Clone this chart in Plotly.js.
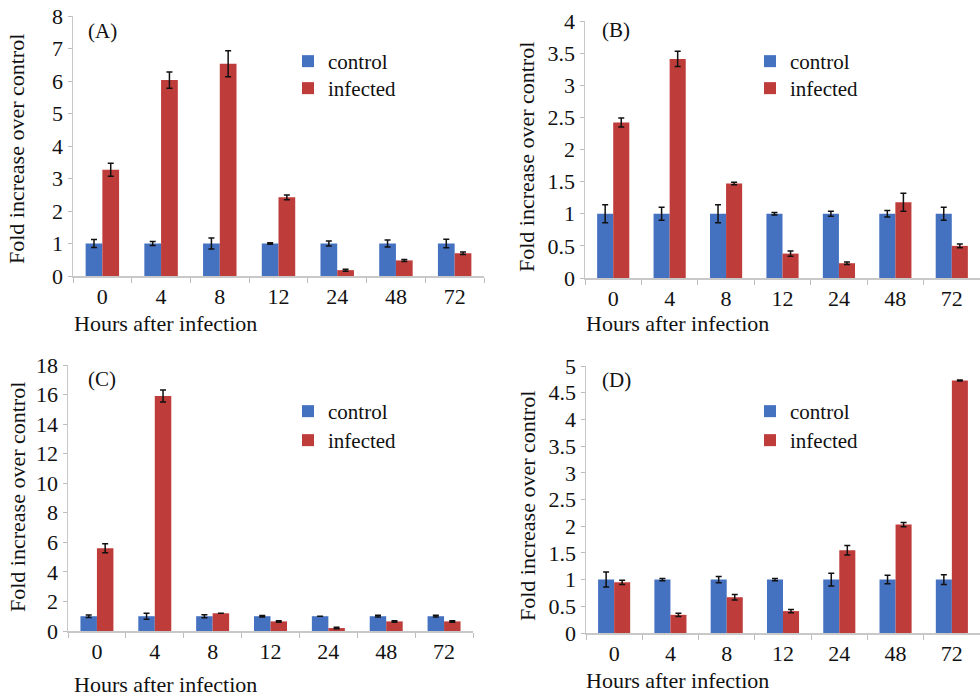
<!DOCTYPE html>
<html>
<head>
<meta charset="utf-8">
<script src="https://cdn.plot.ly/plotly-3.0.1.min.js"></script>
<style>html,body{margin:0;padding:0;background:#fff;}#chart{width:980px;height:697px;}</style>
</head>
<body>
<div id="chart"></div>
<script>
const hours = ['0', '4', '8', '12', '24', '48', '72'];
const seriesNames = ['control', 'infected'];

const controlA = [1, 1, 1, 1, 1, 1, 1];
const controlErrA = [0.12, 0.06, 0.17, 0.02, 0.08, 0.11, 0.13];
const infectedA = [3.27, 6.03, 6.53, 2.42, 0.18, 0.48, 0.70];
const infectedErrA = [0.20, 0.25, 0.40, 0.07, 0.03, 0.03, 0.04];

const controlB = [1, 1, 1, 1, 1, 1, 1];
const controlErrB = [0.14, 0.10, 0.14, 0.02, 0.04, 0.05, 0.10];
const infectedB = [2.42, 3.41, 1.47, 0.38, 0.23, 1.18, 0.50];
const infectedErrB = [0.07, 0.12, 0.02, 0.04, 0.02, 0.14, 0.03];

const controlC = [1, 1, 1, 1, 1, 1, 1];
const controlErrC = [0.08, 0.20, 0.10, 0.05, 0.00, 0.06, 0.06];
const infectedC = [5.6, 15.9, 1.2, 0.65, 0.2, 0.65, 0.65];
const infectedErrC = [0.30, 0.40, 0.00, 0.05, 0.05, 0.05, 0.05];

const controlD = [1, 1, 1, 1, 1, 1, 1];
const controlErrD = [0.14, 0.02, 0.06, 0.02, 0.12, 0.08, 0.09];
const infectedD = [0.95, 0.34, 0.67, 0.41, 1.55, 2.03, 4.73];
const infectedErrD = [0.04, 0.03, 0.05, 0.03, 0.09, 0.04, 0.01];

const panelLabels = ['(A)', '(B)', '(C)', '(D)'];
const xTitle = 'Hours after infection';
const yTitle = 'Fold increase over control';

const BLUE = '#4571c1';
const RED = '#be3c3a';
const FONT = 'Liberation Serif';
const W = 980, H = 697;

const panels = [
  {ctrl: controlA, ce: controlErrA, inf: infectedA, ie: infectedErrA, xa: 'x', ya: 'y'},
  {ctrl: controlB, ce: controlErrB, inf: infectedB, ie: infectedErrB, xa: 'x2', ya: 'y2'},
  {ctrl: controlC, ce: controlErrC, inf: infectedC, ie: infectedErrC, xa: 'x3', ya: 'y3'},
  {ctrl: controlD, ce: controlErrD, inf: infectedD, ie: infectedErrD, xa: 'x4', ya: 'y4'}
];

const legendIds = ['legend', 'legend2', 'legend3', 'legend4', 'legend5', 'legend6', 'legend7', 'legend8'];

const traces = [];
panels.forEach((p, i) => {
  traces.push({
    type: 'bar', x: hours, y: p.ctrl, name: seriesNames[0], xaxis: p.xa, yaxis: p.ya, legend: legendIds[2 * i],
    marker: {color: BLUE},
    error_y: {type: 'data', array: p.ce, visible: true, color: '#111', thickness: 1.5, width: 3}
  });
  traces.push({
    type: 'bar', x: hours, y: p.inf, name: seriesNames[1], xaxis: p.xa, yaxis: p.ya, legend: legendIds[2 * i + 1],
    marker: {color: RED},
    error_y: {type: 'data', array: p.ie, visible: true, color: '#111', thickness: 1.5, width: 3}
  });
});

function px(x) { return x / W; }
function py(y) { return 1 - y / H; }

const geo = [
  {l: 73, r: 484, b: 276, t: 16, range: [0, 8], dtick: 1},
  {l: 585, r: 980, b: 278, t: 21, range: [0, 4], dtick: 0.5},
  {l: 68, r: 473, b: 631, t: 365, range: [0, 18], dtick: 2},
  {l: 586, r: 980, b: 633, t: 366, range: [0, 5], dtick: 0.5}
];

const layout = {
  width: W, height: H,
  margin: {l: 0, r: 0, t: 0, b: 0},
  paper_bgcolor: '#fff', plot_bgcolor: '#fff',
  font: {family: FONT, size: 20, color: '#111'},
  barmode: 'group', bargap: 0.43, bargroupgap: 0,
  showlegend: true,
  annotations: [],
  shapes: []
};

const axNames = ['', '2', '3', '4'];
geo.forEach((g, i) => {
  const n = axNames[i];
  layout['xaxis' + n] = {
    domain: [px(g.l), px(g.r)], anchor: 'y' + n,
    type: 'category', tickson: 'boundaries', ticks: 'outside', ticklen: 5, tickcolor: '#bdbdbd',
    showline: true, linecolor: '#c8c8c8', linewidth: 1.5, showgrid: false, zeroline: false,
    tickfont: {family: FONT, size: 22, color: '#111'}, fixedrange: true
  };
  layout['yaxis' + n] = {
    domain: [py(g.b), py(g.t)], anchor: 'x' + n,
    range: g.range, dtick: g.dtick, ticks: 'outside', ticklen: 4, tickcolor: '#bdbdbd',
    showline: true, linecolor: '#c8c8c8', linewidth: 1.5, showgrid: false, zeroline: false,
    tickfont: {family: FONT, size: 22, color: '#111'}, fixedrange: true
  };
});

const legPos = [
  {x: 288, y: 41}, {x: 288, y: 68},
  {x: 750, y: 41}, {x: 750, y: 68},
  {x: 288, y: 391}, {x: 288, y: 420},
  {x: 750, y: 391}, {x: 750, y: 420}
];
legendIds.forEach((L, i) => {
  layout[L] = {
    x: px(legPos[i].x), y: py(legPos[i].y), xanchor: 'left', yanchor: 'top',
    xref: 'paper', yref: 'paper',
    bgcolor: 'rgba(0,0,0,0)', borderwidth: 0,
    font: {family: FONT, size: 21, color: '#111'},
    itemwidth: 30, tracegroupgap: 0
  };
});

const labelPos = [[86, 31], [600, 30], [86, 379], [600, 380]];
labelPos.forEach((p, i) => {
  layout.annotations.push({
    text: panelLabels[i], xref: 'paper', yref: 'paper', x: px(p[0]), y: py(p[1]),
    xanchor: 'left', yanchor: 'middle', showarrow: false,
    font: {family: FONT, size: 21, color: '#111'}
  });
});

const xTitlePos = [[72, 323], [584, 323], [72, 684], [584, 680]];
xTitlePos.forEach(p => {
  layout.annotations.push({
    text: xTitle, xref: 'paper', yref: 'paper', x: px(p[0]), y: py(p[1]),
    xanchor: 'left', yanchor: 'middle', showarrow: false,
    font: {family: FONT, size: 22, color: '#111'}
  });
});

const yTitlePos = [[17, 149], [527, 157], [17, 497], [527, 506]];
yTitlePos.forEach(p => {
  layout.annotations.push({
    text: yTitle, xref: 'paper', yref: 'paper', x: px(p[0]), y: py(p[1]),
    xanchor: 'center', yanchor: 'middle', showarrow: false, textangle: -90,
    font: {family: FONT, size: 22, color: '#111'}
  });
});

Plotly.newPlot('chart', traces, layout, {displayModeBar: false, staticPlot: true});
</script>
</body>
</html>
